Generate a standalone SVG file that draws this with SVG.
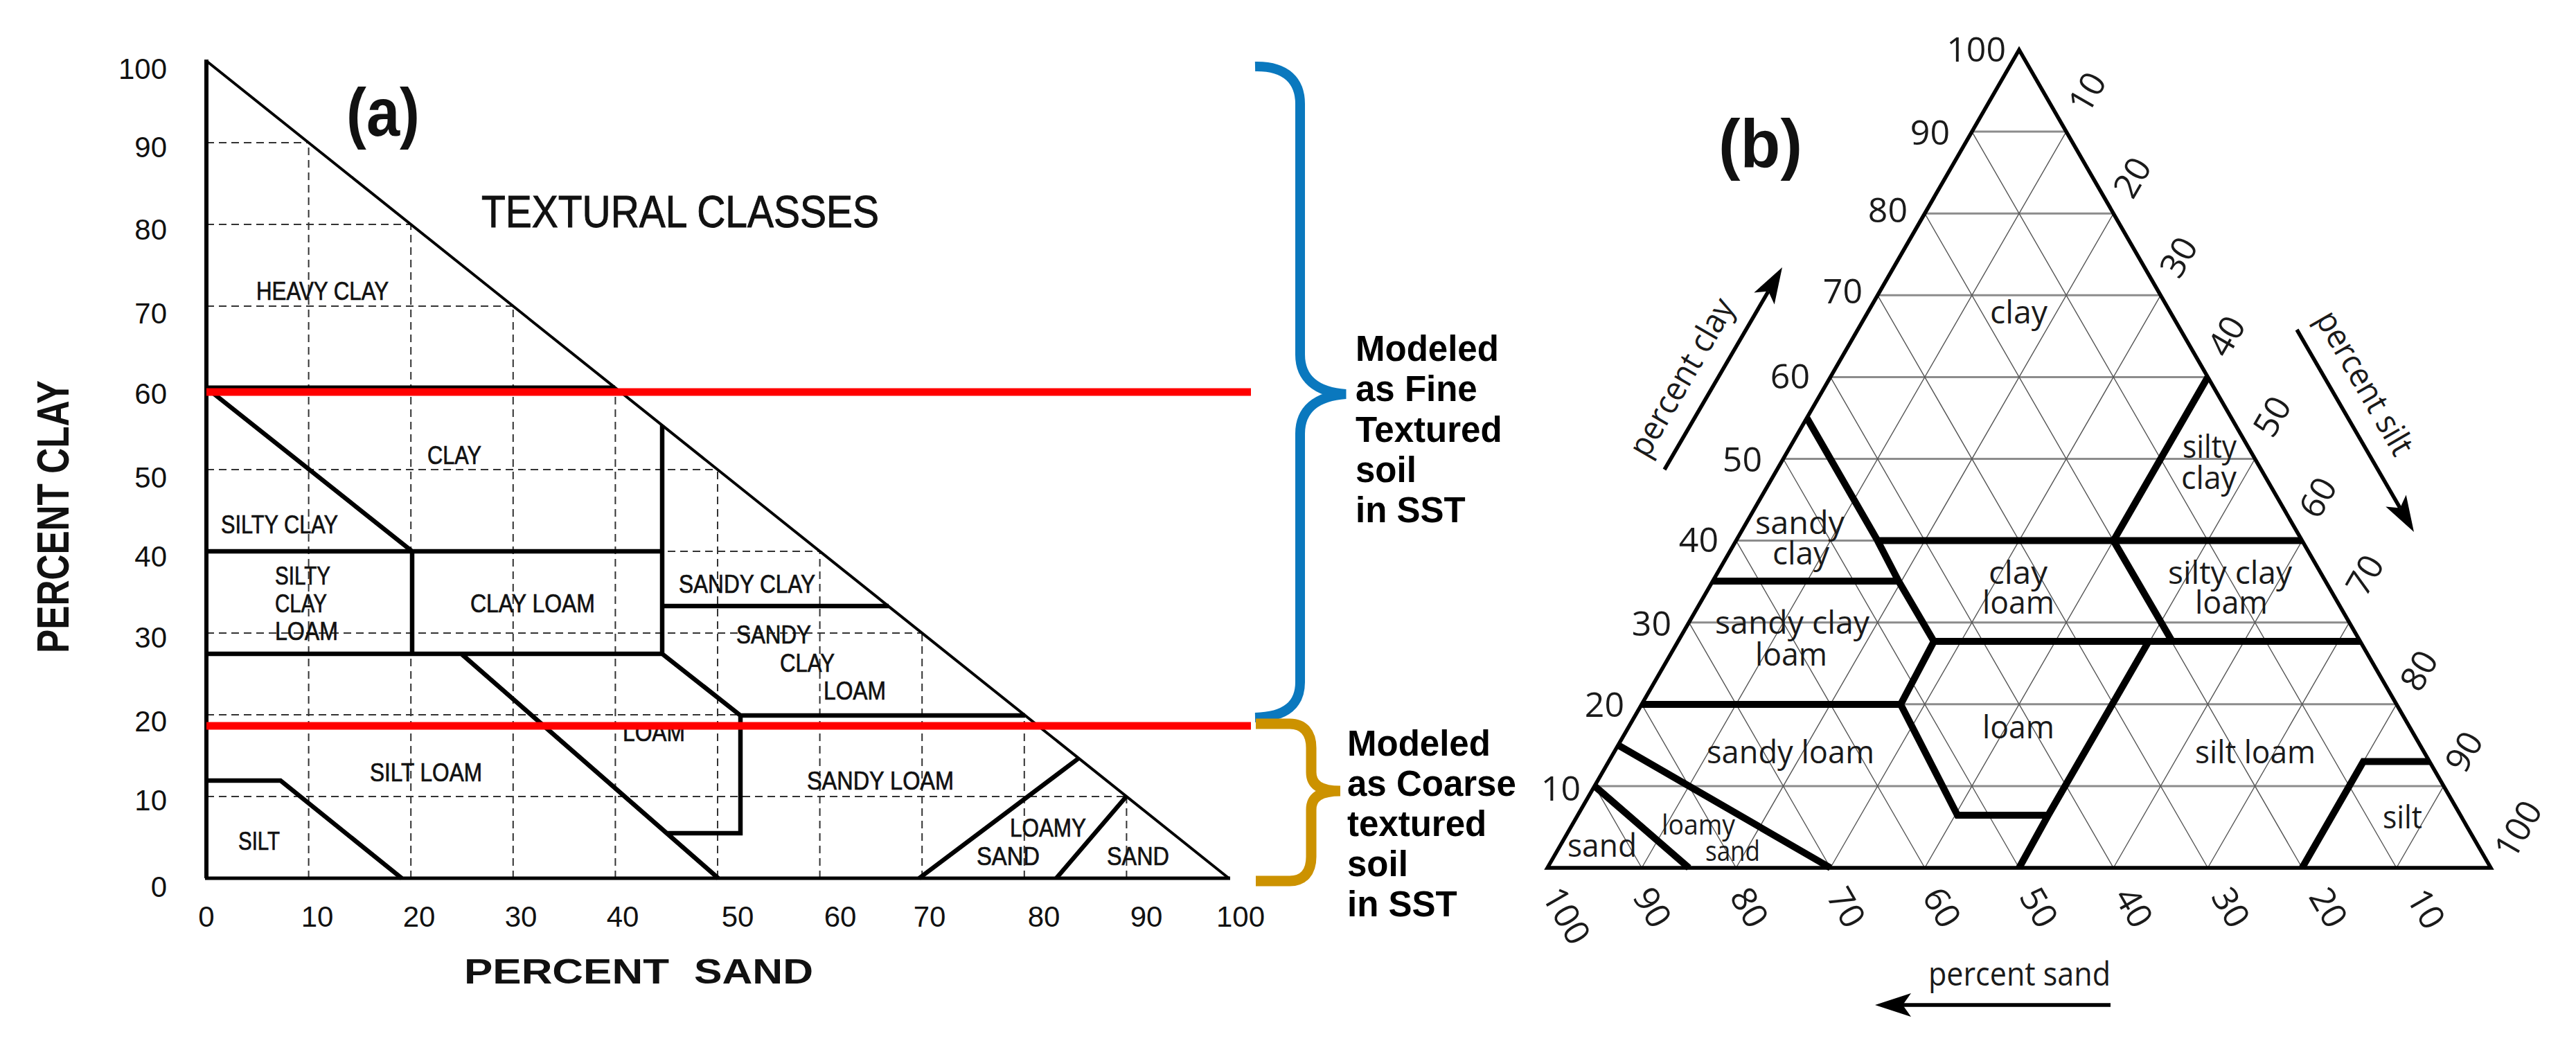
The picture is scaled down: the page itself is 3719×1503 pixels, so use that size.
<svg xmlns="http://www.w3.org/2000/svg" width="3719" height="1503" viewBox="0 0 3719 1503">
<style>
.bg{fill:#fff}
.grid-a{stroke:#333;stroke-width:2;stroke-dasharray:11 7;fill:none}
.thick-a{stroke:#000;stroke-width:6.5;fill:none;stroke-linejoin:miter}
.lab-a{font-family:'Liberation Sans Narrow','Liberation Sans',Arial,sans-serif;font-size:36px;fill:#111;stroke:#111;stroke-width:0.7}
.num-a{font-family:'Liberation Sans',Arial,sans-serif;font-size:42px;fill:#111}
.title-a{font-family:'Liberation Sans',Arial,sans-serif;font-weight:bold;fill:#111}
.red{stroke:#FF0000;stroke-width:11;fill:none}
.grid-h{stroke:#8c8c8c;stroke-width:3;fill:none}
.grid-d{stroke:#555;stroke-width:1.4;fill:none}
.thick-b{stroke:#000;stroke-width:10;fill:none;stroke-linejoin:miter}
.lab-b{font-family:'Open Sans','Noto Sans',sans-serif;font-size:46px;fill:#1a1a1a}
.num-b{font-family:'Open Sans','Noto Sans',sans-serif;font-size:50px;fill:#1a1a1a}
.note{font-family:'Liberation Sans',Arial,sans-serif;font-weight:bold;font-size:51px;fill:#000}
.arrow{stroke:#000;stroke-width:5.5;fill:none}
.head{fill:#000}
</style>
<rect class="bg" x="0" y="0" width="3719" height="1503"/>

<g id="panel-a">
  <path class="grid-a" d="M298,1150H1626.4 M298,1032H1478.8 M298,914H1331.2 M298,796H1183.6 M298,678H1036 M298,560H888.4 M298,442H740.8 M298,324H593.2 M298,206H445.6 M445.6,1268V206 M593.2,1268V324 M740.8,1268V442 M888.4,1268V560 M1036,1268V678 M1183.6,1268V796 M1331.2,1268V914 M1478.8,1268V1032 M1626.4,1268V1150"/>
  <path stroke="#000" stroke-width="5" d="M298,559H888"/>
  <path class="thick-a" d="M298,560L595,796 M298,796H956 M956,614V944 M595,796V944 M298,944H956 M956,944L1069,1033H1480 M1069,1033V1203H963 M666,944L1037,1268 M298,1127H405L580,1268 M956,875H1283 M1327,1268L1557,1095 M1525,1268L1626,1150"/>
  <path stroke="#000" stroke-width="6" fill="none" d="M298,86V1268"/>
  <path stroke="#000" stroke-width="5" fill="none" d="M296,1268H1776"/>
  <path stroke="#000" stroke-width="4" fill="none" d="M298,88L1774,1268"/>

  <text class="title-a" x="500" y="196" style="font-size:98px" textLength="106" lengthAdjust="spacingAndGlyphs">(a)</text>
  <text class="lab-a" x="695" y="328" style="font-size:65px;stroke-width:1" textLength="574" lengthAdjust="spacingAndGlyphs">TEXTURAL CLASSES</text>

  <text class="lab-a" x="370" y="433" textLength="191" lengthAdjust="spacingAndGlyphs">HEAVY CLAY</text>
  <text class="lab-a" x="617" y="670" textLength="78" lengthAdjust="spacingAndGlyphs">CLAY</text>
  <text class="lab-a" x="319" y="770" textLength="169" lengthAdjust="spacingAndGlyphs">SILTY CLAY</text>
  <text class="lab-a" x="397" y="844" textLength="80" lengthAdjust="spacingAndGlyphs">SILTY</text>
  <text class="lab-a" x="397" y="884" textLength="75" lengthAdjust="spacingAndGlyphs">CLAY</text>
  <text class="lab-a" x="397" y="924" textLength="91" lengthAdjust="spacingAndGlyphs">LOAM</text>
  <text class="lab-a" x="679" y="884" textLength="180" lengthAdjust="spacingAndGlyphs">CLAY LOAM</text>
  <text class="lab-a" x="980" y="856" textLength="197" lengthAdjust="spacingAndGlyphs">SANDY CLAY</text>
  <text class="lab-a" x="1063" y="929" textLength="108" lengthAdjust="spacingAndGlyphs">SANDY</text>
  <text class="lab-a" x="1126" y="970" textLength="79" lengthAdjust="spacingAndGlyphs">CLAY</text>
  <text class="lab-a" x="1189" y="1010" textLength="90" lengthAdjust="spacingAndGlyphs">LOAM</text>
  <text class="lab-a" x="899" y="1070" textLength="90" lengthAdjust="spacingAndGlyphs">LOAM</text>
  <text class="lab-a" x="534" y="1128" textLength="162" lengthAdjust="spacingAndGlyphs">SILT LOAM</text>
  <text class="lab-a" x="1165" y="1140" textLength="212" lengthAdjust="spacingAndGlyphs">SANDY LOAM</text>
  <text class="lab-a" x="344" y="1227" textLength="60" lengthAdjust="spacingAndGlyphs">SILT</text>
  <text class="lab-a" x="1458" y="1208" textLength="110" lengthAdjust="spacingAndGlyphs">LOAMY</text>
  <text class="lab-a" x="1410" y="1249" textLength="91" lengthAdjust="spacingAndGlyphs">SAND</text>
  <text class="lab-a" x="1598" y="1249" textLength="90" lengthAdjust="spacingAndGlyphs">SAND</text>

  <g class="num-a" text-anchor="end">
    <text x="241" y="114">100</text>
    <text x="241" y="227">90</text>
    <text x="241" y="346">80</text>
    <text x="241" y="467">70</text>
    <text x="241" y="583">60</text>
    <text x="241" y="704">50</text>
    <text x="241" y="818">40</text>
    <text x="241" y="935">30</text>
    <text x="241" y="1056">20</text>
    <text x="241" y="1170">10</text>
    <text x="241" y="1295">0</text>
  </g>
  <g class="num-a" text-anchor="middle">
    <text x="298" y="1338">0</text>
    <text x="458" y="1338">10</text>
    <text x="605" y="1338">20</text>
    <text x="752" y="1338">30</text>
    <text x="899" y="1338">40</text>
    <text x="1065" y="1338">50</text>
    <text x="1213" y="1338">60</text>
    <text x="1342" y="1338">70</text>
    <text x="1507" y="1338">80</text>
    <text x="1655" y="1338">90</text>
    <text x="1791" y="1338">100</text>
  </g>
  <text class="title-a" x="670" y="1420" style="font-size:50px" textLength="296" lengthAdjust="spacingAndGlyphs">PERCENT</text>
  <text class="title-a" x="1002" y="1420" style="font-size:50px" textLength="172" lengthAdjust="spacingAndGlyphs">SAND</text>
  <text class="title-a" transform="translate(99,746) rotate(-90)" x="0" y="0" style="font-size:64px" text-anchor="middle" textLength="394" lengthAdjust="spacingAndGlyphs">PERCENT CLAY</text>

  <path class="red" d="M298,566H1806 M298,1048H1806"/>
</g>

<g id="brace-fine">
  <path fill="none" stroke="#0A78BE" stroke-width="14" d="M1812,96 C1858,95 1877,118 1877,150 L1877,512 C1877,546 1900,566 1943,569 C1900,572 1877,592 1877,626 L1877,985 C1877,1016 1858,1035 1812,1036"/>
</g>
<g id="brace-coarse">
  <path fill="none" stroke="#CC9200" stroke-width="15" d="M1813,1045 L1862,1045 C1882,1045 1893,1058 1893,1080 L1893,1115 C1893,1133 1906,1142 1935,1142 C1906,1142 1893,1151 1893,1169 L1893,1237 C1893,1259 1882,1272 1862,1272 L1813,1272"/>
</g>
<g id="note-fine" class="note">
  <text x="1957" y="521">Modeled</text>
  <text x="1957" y="579">as Fine</text>
  <text x="1957" y="638">Textured</text>
  <text x="1957" y="696">soil</text>
  <text x="1957" y="754">in SST</text>
</g>
<g id="note-coarse" class="note">
  <text x="1945" y="1091">Modeled</text>
  <text x="1945" y="1149">as Coarse</text>
  <text x="1945" y="1207">textured</text>
  <text x="1945" y="1265">soil</text>
  <text x="1945" y="1323">in SST</text>
</g>

<g id="panel-b">
  <path class="grid-h" d="M2302.1,1134.9H3527.9 M2370.2,1016.8H3459.8 M2438.3,898.7H3391.7 M2506.4,780.6H3323.6 M2574.5,662.5H3255.5 M2642.6,544.4H3187.4 M2710.7,426.3H3119.3 M2778.8,308.2H3051.2 M2846.9,190.1H2983.1"/>
  <path class="grid-d" d="M2370.2,1253L2983.1,190.1 M2506.4,1253L3051.2,308.2 M2642.6,1253L3119.3,426.3 M2778.8,1253L3187.4,544.4 M2915,1253L3255.5,662.5 M3051.2,1253L3323.6,780.6 M3187.4,1253L3391.7,898.7 M3323.6,1253L3459.8,1016.8 M3459.8,1253L3527.9,1134.9 M3459.8,1253L2846.9,190.1 M3323.6,1253L2778.8,308.2 M3187.4,1253L2710.7,426.3 M3051.2,1253L2642.6,544.4 M2915,1253L2574.5,662.5 M2778.8,1253L2506.4,780.6 M2642.6,1253L2438.3,898.7 M2506.4,1253L2370.2,1016.8 M2370.2,1253L2302.1,1134.9"/>
  <path class="thick-b" d="M2608.6,603.4L2710.7,780.6L2741,839L2792,926 M2472.7,839H2741 M2710.7,780.6H3323.6 M3187.4,544.4L3051.2,780.6L3136,926 M2792,926H3407.4 M2370.2,1017H2744 M2792,926L2744,1017L2826,1177H2957 M2915,1253L2957,1177L3102,926 M3323.6,1253L3412,1099.5H3507.5 M2336.2,1075.8L2642.6,1253 M2302.1,1134.9L2438.3,1253"/>
  <path fill="none" stroke="#000" stroke-width="5.5" stroke-linejoin="miter" d="M2234,1253L2915,72L3596,1253Z"/>

  <text class="title-a" x="2481" y="241" style="font-size:98px" textLength="121" lengthAdjust="spacingAndGlyphs">(b)</text>

  <g class="lab-b">
    <text x="2873" y="467" textLength="83" lengthAdjust="spacingAndGlyphs">clay</text>
    <text x="3151" y="661" textLength="78" lengthAdjust="spacingAndGlyphs">silty</text>
    <text x="3149" y="706" textLength="80" lengthAdjust="spacingAndGlyphs">clay</text>
    <text x="2534" y="771" textLength="129" lengthAdjust="spacingAndGlyphs">sandy</text>
    <text x="2559" y="815" textLength="82" lengthAdjust="spacingAndGlyphs">clay</text>
    <text x="2871" y="843" textLength="85" lengthAdjust="spacingAndGlyphs">clay</text>
    <text x="2862" y="886" textLength="104" lengthAdjust="spacingAndGlyphs">loam</text>
    <text x="3130" y="843" textLength="179" lengthAdjust="spacingAndGlyphs">silty clay</text>
    <text x="3169" y="886" textLength="105" lengthAdjust="spacingAndGlyphs">loam</text>
    <text x="2476" y="915" textLength="223" lengthAdjust="spacingAndGlyphs">sandy clay</text>
    <text x="2534" y="961" textLength="104" lengthAdjust="spacingAndGlyphs">loam</text>
    <text x="2862" y="1066" textLength="104" lengthAdjust="spacingAndGlyphs">loam</text>
    <text x="2464" y="1102" textLength="242" lengthAdjust="spacingAndGlyphs">sandy loam</text>
    <text x="3169" y="1102" textLength="174" lengthAdjust="spacingAndGlyphs">silt loam</text>
    <text x="3440" y="1196" textLength="57" lengthAdjust="spacingAndGlyphs">silt</text>
    <text x="2263" y="1237" textLength="100" lengthAdjust="spacingAndGlyphs">sand</text>
    <text x="2399" y="1205" style="font-size:40px" textLength="106" lengthAdjust="spacingAndGlyphs">loamy</text>
    <text x="2462" y="1243" style="font-size:40px" textLength="79" lengthAdjust="spacingAndGlyphs">sand</text>
  </g>

  <g class="num-b" text-anchor="end">
    <text x="2896" y="89">100</text>
    <text x="2815" y="209">90</text>
    <text x="2754" y="321">80</text>
    <text x="2689" y="438">70</text>
    <text x="2613" y="561">60</text>
    <text x="2544" y="681">50</text>
    <text x="2481" y="797">40</text>
    <text x="2413" y="918">30</text>
    <text x="2345" y="1035">20</text>
    <text x="2282" y="1156">10</text>
  </g>
  <g class="num-b" text-anchor="middle">
    <text transform="translate(3013,133) rotate(-60)" dy=".36em">10</text>
    <text transform="translate(3078,256) rotate(-60)" dy=".36em">20</text>
    <text transform="translate(3145,371) rotate(-60)" dy=".36em">30</text>
    <text transform="translate(3214,485) rotate(-60)" dy=".36em">40</text>
    <text transform="translate(3280,601) rotate(-60)" dy=".36em">50</text>
    <text transform="translate(3346,718) rotate(-60)" dy=".36em">60</text>
    <text transform="translate(3414,830) rotate(-60)" dy=".36em">70</text>
    <text transform="translate(3492,968) rotate(-60)" dy=".36em">80</text>
    <text transform="translate(3557,1085) rotate(-60)" dy=".36em">90</text>
    <text transform="translate(3635,1197) rotate(-60)" dy=".36em">100</text>
    <text transform="translate(2262,1322) rotate(60)" dy=".36em">100</text>
    <text transform="translate(2386,1310) rotate(60)" dy=".36em">90</text>
    <text transform="translate(2526,1310) rotate(60)" dy=".36em">80</text>
    <text transform="translate(2666,1310) rotate(60)" dy=".36em">70</text>
    <text transform="translate(2804,1310) rotate(60)" dy=".36em">60</text>
    <text transform="translate(2944,1310) rotate(60)" dy=".36em">50</text>
    <text transform="translate(3081,1310) rotate(60)" dy=".36em">40</text>
    <text transform="translate(3221,1310) rotate(60)" dy=".36em">30</text>
    <text transform="translate(3362,1310) rotate(60)" dy=".36em">20</text>
    <text transform="translate(3503,1312) rotate(60)" dy=".36em">10</text>
  </g>

  <g class="lab-b" style="font-size:48px">
    <text transform="translate(2442,553) rotate(-60)" text-anchor="middle" textLength="255" lengthAdjust="spacingAndGlyphs">percent clay</text>
    <text transform="translate(3400,561) rotate(60)" text-anchor="middle" textLength="232" lengthAdjust="spacingAndGlyphs">percent silt</text>
    <text x="2784" y="1423" textLength="263" lengthAdjust="spacingAndGlyphs">percent sand</text>
  </g>
</g>

<g id="connectors">
  <path class="arrow" d="M2403,678L2553,420.6"/>
  <path class="head" d="M2573,386L2561.7,439.5L2553,420.6L2532.3,422.5Z"/>
  <path class="arrow" d="M3316,476L3465,733.4"/>
  <path class="head" d="M3485,768L3444.3,731.5L3465,733.4L3473.7,714.5Z"/>
  <path class="arrow" d="M3047,1451H2747"/>
  <path class="head" d="M2707,1451L2759,1434L2747,1451L2759,1468Z"/>
</g>
</svg>
